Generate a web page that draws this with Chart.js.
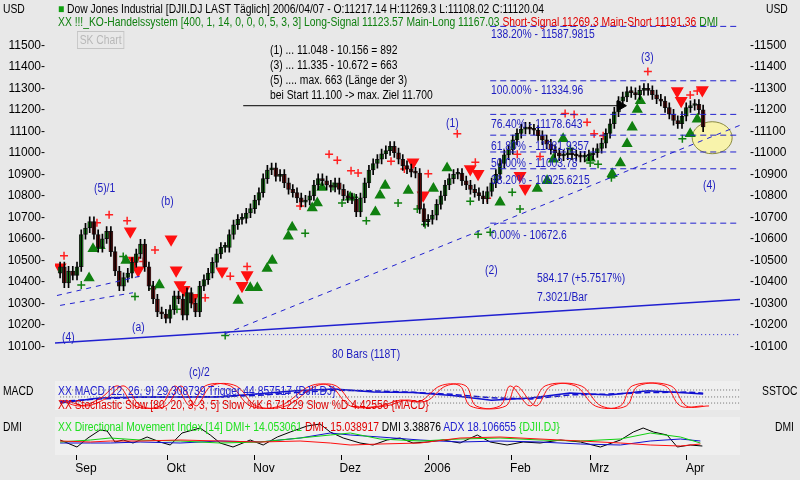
<!DOCTYPE html>
<html>
<head>
<meta charset="utf-8">
<script src="https://cdn.jsdelivr.net/npm/chart.js@4"></script>
<style>
  body { margin:0; width:800px; height:480px; background:#e8e8e8; overflow:hidden; position:relative;
         font-family:"Liberation Sans", Arial, sans-serif; font-size:12px; }
  canvas { position:absolute; left:0; }
  .t { position:absolute; white-space:nowrap; line-height:12px; transform:scaleX(0.86); transform-origin:left top; }
  .b { color:#1c1cc0; }
  .k { color:#000; }
  .g { color:#108010; }
  .r { color:#e00000; }
</style>
</head>
<body>
<canvas id="mainChart" width="800" height="372" style="top:0"></canvas>
<canvas id="macdChart" width="800" height="29" style="top:381px"></canvas>
<canvas id="dmiChart" width="800" height="63" style="top:417px"></canvas>

<div class="t k" style="left:3px;top:3px">USD</div>
<div class="t k" style="left:766px;top:3px">USD</div>
<div class="t k" style="left:58px;top:3px"><span style="color:#10a010">&#9632;</span> Dow Jones Industrial [DJII.DJ LAST Täglich] 2006/04/07 - O:11217.14 H:11269.3 L:11108.02 C:11120.04</div>
<div class="t" style="left:58px;top:16px"><span class="g">XX !!!_KO-Handelssystem [400, 1, 14, 0, 0, 0, 5, 3, 3] Long-Signal 11123.57 Main-Long 11167.03 </span><span class="r">Short-Signal 11269.3 Main-Short 11191.36 </span><span class="g">DMI</span></div>
<div class="t" style="left:77px;top:31px;width:53px;height:16px;border:1px solid #c4c4c4;color:#b8b8b8;line-height:16px;text-align:center">SK Chart</div>

<div class="t k" style="left:270px;top:44px">(1) ... 11.048 - 10.156 = 892</div>
<div class="t k" style="left:270px;top:59px">(3) ... 11.335 - 10.672 = 663</div>
<div class="t k" style="left:270px;top:74px">(5) .... max. 663 (Länge der 3)</div>
<div class="t k" style="left:270px;top:89px">bei Start 11.100 -&gt; max. Ziel 11.700</div>

<div class="t b" style="left:491px;top:28px">138.20% - 11587.9815</div>
<div class="t b" style="left:491px;top:84px">100.00% - 11334.96</div>
<div class="t b" style="left:491px;top:118px">76.40% - 11178.643</div>
<div class="t b" style="left:491px;top:140px">61.80% - 11081.9357</div>
<div class="t b" style="left:491px;top:157px">50.00% - 11003.78</div>
<div class="t b" style="left:491px;top:174px">38.20% - 10925.6215</div>
<div class="t b" style="left:491px;top:229px">0.00% - 10672.6</div>

<div class="t b" style="left:94px;top:182px">(5)/1</div>
<div class="t b" style="left:161px;top:195px">(b)</div>
<div class="t b" style="left:62px;top:331px">(4)</div>
<div class="t b" style="left:132px;top:321px">(a)</div>
<div class="t b" style="left:189px;top:366px">(c)/2</div>
<div class="t b" style="left:446px;top:117px">(1)</div>
<div class="t b" style="left:485px;top:264px">(2)</div>
<div class="t b" style="left:641px;top:51px">(3)</div>
<div class="t b" style="left:703px;top:179px">(4)</div>
<div class="t b" style="left:332px;top:348px">80 Bars (118T)</div>
<div class="t b" style="left:537px;top:272px">584.17 (+5.7517%)</div>
<div class="t b" style="left:537px;top:291px">7.3021/Bar</div>

<div class="t k" style="left:3px;top:385px">MACD</div>
<div class="t k" style="left:762px;top:385px">SSTOC</div>
<div class="t" style="left:58px;top:385px;color:#2020d0">XX MACD [12, 26, 9] 29.308739 Trigger 44.857517 {DJII.DJ}</div>
<div class="t r" style="left:58px;top:399px">XX Stochastic Slow [80, 20, 3, 3, 5] Slow %K 6.71229 Slow %D 4.42556 {MACD}</div>
<div class="t k" style="left:3px;top:421px">DMI</div>
<div class="t k" style="left:775px;top:421px">DMI</div>
<div class="t" style="left:58px;top:421px"><span style="color:#20e020">XX Directional Movement Index [14] DMI+ 14.053061 </span><span class="r">DMI- 15.038917 </span><span class="k">DMI 3.38876 </span><span style="color:#2020d0">ADX 18.106655 </span><span style="color:#20e020">{DJII.DJ}</span></div>

<script>
// daily closes, end of August 2005 .. 2006/04/07
const closes = [10470,10395,10450,10430,10470,10620,10650,10680,10620,10560,10600,10635,10540,10450,10380,10420,10440,10490,10530,10575,
  10470,10380,10320,10260,10250,10230,10270,10335,10320,10245,10350,10300,10260,10380,10410,10440,10490,10530,10560,10560,
  10620,10665,10690,10695,10720,10740,10780,10815,10880,10920,10930,10890,10900,10860,10830,10815,10790,10770,10780,10800,
  10850,10880,10870,10850,10840,10860,10830,10800,10790,10785,10725,10790,10860,10920,10950,10970,10995,11010,11030,11000,
  10970,10940,10925,10910,10905,10740,10680,10690,10710,10760,10800,10850,10880,10900,10905,10870,10850,10830,10815,10800,
  10785,10820,10860,10900,10950,10990,11015,11060,11090,11110,11120,11110,11105,11080,11060,11040,11015,11000,10985,10990,
  11000,10990,10985,10980,10985,10990,11000,11020,11045,11090,11135,11190,11240,11260,11285,11280,11270,11290,11300,11290,
  11270,11250,11240,11210,11180,11150,11135,11170,11210,11220,11225,11200,11120];
const firstOpen = 10440;
const wick = 22;
const lastBarPos = 164;   // x position of the last candle on the time axis

const yTicks = [10100,10200,10300,10400,10500,10600,10700,10800,10900,11000,11100,11200,11300,11400,11500];
const monthTicks = [4.3, 27.3, 49.7, 71.7, 93.9, 115.1, 135.2, 159.7];
const monthLabels = ["Sep","Okt","Nov","Dez","2006","Feb","Mrz","Apr"];

const fibLevels = [11587.9815, 11334.96, 11178.643, 11081.9357, 11003.78, 10925.6215, 10672.6];
const fibStart = 109.7;
const xMin = -1.3, xMax = 173.4;

// signal markers: [time, price]
const redDown = [[0,10467],[17.9,10635],[18.9,10499],[19.9,10453],[28.3,10598],[29.6,10453],[30.6,10385],[31.6,10363],[33.9,10326],
  [41.3,10449],[46.4,10381],[47.7,10431],[90,10956],[92.6,10802],[104.6,10925],[106.6,10902],[117.3,10893],[118.6,10834],
  [157.4,11287],[158.4,11242],[163.8,11292]];
const greenUp = [[7.4,10417],[8.4,10553],[10.2,10567],[16.8,10499],[25.3,10385],[45.4,10313],[48.5,10372],[50.3,10372],[52.8,10462],
  [54.1,10499],[58.2,10612],[59.2,10653],[64.3,10743],[65.6,10766],[66.8,10838],[74,10793],[80.4,10725],[81.6,10802],[82.9,10848],
  [88.8,10825],[95.2,10834],[98.7,10929],[112.2,10770],[121.7,10834],[124.2,10870],[125.8,10970],[128.3,11065],[135.2,10974],
  [140.8,10902],[142.9,10952],[144.6,11042],[145.9,11119],[147.2,11201],[148,11242],[160.7,11088],[162.5,11156]];
const redPlus = [[1,10521],[9.4,10675],[12.5,10712],[17.1,10684],[21.2,10494],[24.2,10548],[37,10326],[43.4,10426],[47.7,10471],
  [61.2,10752],[68.6,10993],[70.7,10965],[74.2,10916],[76,10906],[84.4,10961],[87.8,10925],[93.9,10902],[101.3,11088],[105.9,10956],
  [108.9,10789],[116.6,10993],[122.4,10983],[128.8,11183],[131.1,11178],[134.4,11142],[136.2,11088],[138.5,11079],[149.9,11378],
  [160.7,11269],[162.5,11287]];
const greenPlus = [[5.4,10385],[16.1,10517],[19.1,10331],[23.5,10367],[29.8,10272],[42.1,10150],[62.5,10626],[69.6,10843],[71.9,10766],
  [75,10793],[78.1,10684],[86.2,10766],[91.1,10739],[93.1,10666],[104.6,10775],[106.6,10621],[109.7,10630],[115.3,10816],[117.3,10739],
  [130.1,11020],[135.2,10952],[137.2,10947],[140.6,10884],[158.7,11065]];

// trend lines [time, price]
const trendSolid = [[xMin,10115],[xMax,10318]];
const trendDashed = [[42.1,10158],[xMax,11128]];
const lowDotted = [[42.1,10154],[xMax,10154]];
const leftDash1 = [[-0.8,10336],[20.4,10426]];
const leftDash2 = [[0,10290],[18.6,10349]];
const arrowLine = [[46.7,11219],[142.9,11219]];
const circleAt = [166.3, 11070];

// MACD / Stochastic panel (0..100)
const macdX = [0,10,20,30,40,50,60,70,80,90,100,110,120,130,140,150,160,164];
const macdLine = [24,41,45,45,45,55,66,72,62,60,50,34,41,59,52,66,59,55];
const macdTrigger = [30,38,44,45,46,50,60,68,66,61,54,42,38,52,55,60,62,58];
const stochX = [0,5.1,10.2,14.8,19.1,25.5,29.3,33.2,37,43.4,48.5,56.1,63.8,68.9,74,81.6,86.7,91.8,96.9,102,104.6,112.2,114.8,
  119.9,123.7,131.4,136.5,142.9,145.9,154.3,158.2,164];
const stochK = [34,14,40,83,14,14,83,14,83,83,14,14,83,83,14,14,34,30,83,83,14,14,83,14,83,83,14,14,83,83,14,14];
const stochDots = [69,45,24];

// DMI panel
const blackX = [0,4.3,7.1,10.2,12,14,16.1,18.6,22.2,25.5,28.1,31.1,35.7,38.3,40.8,44.1,48.5,51.8,55.4,58.7,63,66.3,68.9,72.2,
  76.5,79.8,83.4,86.7,90,93.6,97.7,102,106.4,109.7,114,118.1,122.4,127.6,132.7,137.8,142.9,146.2,148.7,151.3,154.8,157.4,160.7,163.8];
const dmiLine = [15,8,17,25,24,13,15,12,18,13,10,22,27,20,12,8,15,10,18,23,29,31,23,17,12,10,15,17,12,13,15,12,20,13,10,13,12,
  15,13,8,15,23,27,23,20,8,10,9];
const dmiX = [0,7.7,12.8,20.4,30.6,40.8,51,61.2,68.9,74,81.6,91.8,102,112.2,122.4,132.7,142.9,150.5,158.2,163.3];
const dmiPlus = [13,15,17,15,14,12,13,17,20,22,16,14,16,17,15,14,16,22,18,12];
const dmiMinus = [14,13,14,14,15,14,13,14,12,10,11,12,17,18,16,14,12,10,9,11];
const adx = [12,12,12,13,12,14,13,17,22,20,18,15,13,14,13,11,10,14,16,14];

const pts = arr => arr.map(p => ({ x: p[0], y: p[1] }));
const xy = (xs, ys) => xs.map((x, i) => ({ x, y: ys[i] }));

const barStep = lastBarPos / (closes.length - 1);
const opens = closes.map((c, i) => i === 0 ? firstOpen : closes[i - 1]);
const bodies = closes.map((c, i) => ({ x: i * barStep, y: [opens[i], c] }));
const wicks = closes.map((c, i) => ({ x: i * barStep, y: [Math.min(opens[i], c) - wick, Math.max(opens[i], c) + wick] }));
const bodyColors = closes.map((c, i) => c >= opens[i] ? "#18b018" : "#a01010");

const panelBg = color => ({
  id: "panelBg",
  beforeDraw(chart) {
    const a = chart.chartArea, ctx = chart.ctx;
    ctx.save(); ctx.fillStyle = color;
    ctx.fillRect(a.left, a.top, a.right - a.left, a.bottom - a.top);
    ctx.restore();
  }
});

const ellipsePlugin = {
  id: "ellipse",
  beforeDatasetsDraw(chart) {
    const ctx = chart.ctx;
    const cx = chart.scales.x.getPixelForValue(circleAt[0]);
    const cy = chart.scales.y.getPixelForValue(circleAt[1]);
    ctx.save();
    ctx.beginPath(); ctx.ellipse(cx, cy, 20, 16, 0, 0, Math.PI * 2);
    ctx.fillStyle = "rgba(250,245,160,0.85)"; ctx.fill();
    ctx.strokeStyle = "#8a8a40"; ctx.lineWidth = 1; ctx.stroke();
    ctx.restore();
  }
};

const xHidden = { type: "linear", min: xMin, max: xMax, offset: false, display: false };
const line = (data, color, extra) => Object.assign({ type: "line", data, borderColor: color, borderWidth: 1,
  pointRadius: 0, fill: false, tension: 0 }, extra || {});
const fibSets = fibLevels.map(v => line([{ x: fibStart, y: v }, { x: xMax, y: v }], "#2020d0", { borderDash: [6, 4] }));
const marker = (data, color, style, rot, r) => ({ type: "scatter", data: pts(data), pointStyle: style, rotation: rot,
  pointRadius: r, backgroundColor: color, borderColor: color, borderWidth: 1.5 });

const tickFont = { size: 12, family: "Liberation Sans" };
const yFit = w => function (s) { s.width = w; };
new Chart(document.getElementById("mainChart"), {
  type: "bar",
  data: {
    datasets: [
      ...fibSets,
      line(pts(trendSolid), "#2020d0", { borderWidth: 1.5 }),
      line(pts(trendDashed), "#2020d0", { borderDash: [5, 5] }),
      line(pts(lowDotted), "#2020d0", { borderDash: [1, 3] }),
      line(pts(leftDash1), "#2020d0", { borderDash: [5, 5] }),
      line(pts(leftDash2), "#2020d0", { borderDash: [5, 5] }),
      line(pts(arrowLine), "#000", { pointRadius: [0, 6], pointStyle: "triangle", rotation: 90, pointBackgroundColor: "#000" }),
      { type: "bar", data: wicks, backgroundColor: "#000", barThickness: 1, grouped: false },
      { type: "bar", data: bodies, backgroundColor: bodyColors, borderColor: "#202020", borderWidth: 1,
        barThickness: 4, grouped: false, borderSkipped: false, minBarLength: 2 },
      marker(redPlus, "#ff2020", "cross", 0, 4),
      marker(greenPlus, "#108010", "cross", 0, 4),
      marker(redDown, "#ff1010", "triangle", 180, 6),
      marker(greenUp, "#108010", "triangle", 0, 5)
    ]
  },
  options: {
    responsive: false, animation: false, events: [],
    layout: { padding: { top: 18 } },
    plugins: { legend: { display: false }, tooltip: { enabled: false } },
    scales: {
      x: xHidden,
      y: { position: "left", min: 10023, max: 11627, grid: { display: false }, border: { display: false },
        afterFit: yFit(55), afterBuildTicks: s => { s.ticks = yTicks.map(v => ({ value: v })); },
        ticks: { color: "#000", font: tickFont, padding: 2, callback: v => v + "-" } },
      y2: { position: "right", min: 10023, max: 11627, grid: { display: false }, border: { display: false },
        afterFit: yFit(60), afterBuildTicks: s => { s.ticks = yTicks.map(v => ({ value: v })); },
        ticks: { color: "#000", font: tickFont, padding: 2, callback: v => "-" + v } }
    }
  },
  plugins: [ellipsePlugin]
});

new Chart(document.getElementById("macdChart"), {
  type: "line",
  data: {
    datasets: [
      ...stochDots.map(v => line([{ x: 0, y: v }, { x: xMax, y: v }], "#707070", { borderDash: [1, 2] })),
      line(xy(stochX, stochK), "#ff1010", { tension: 0.35 }),
      line(xy(stochX.map(x => x + 1.5), stochK), "#ff1010", { tension: 0.35 }),
      line(xy(macdX, macdTrigger), "#1010d0", { borderDash: [6, 3], borderWidth: 1.5 }),
      line(xy(macdX, macdLine), "#1010d0", { borderWidth: 1.5 })
    ]
  },
  options: {
    responsive: false, animation: false, events: [],
    layout: { padding: { left: 55, right: 60 } },
    plugins: { legend: { display: false }, tooltip: { enabled: false } },
    scales: { x: xHidden, y: { min: 0, max: 100, display: false } }
  },
  plugins: [panelBg("#efefef")]
});

new Chart(document.getElementById("dmiChart"), {
  type: "line",
  data: {
    datasets: [
      line(xy(dmiX, dmiMinus), "#ff1010"),
      line(xy(dmiX, dmiPlus), "#10d010"),
      line(xy(dmiX, adx), "#1010d0"),
      line(xy(blackX, dmiLine), "#000")
    ]
  },
  options: {
    responsive: false, animation: false, events: [],
    layout: { padding: { left: 55, right: 60 } },
    plugins: { legend: { display: false }, tooltip: { enabled: false } },
    scales: {
      x: { type: "linear", min: xMin, max: xMax, offset: false, border: { display: false },
        grid: { drawOnChartArea: false, color: "#000", tickLength: 5 },
        afterBuildTicks: s => { s.ticks = monthTicks.map(v => ({ value: v })); },
        afterFit: s => { s.height = 25; },
        ticks: { color: "#000", font: tickFont, maxRotation: 0, autoSkip: false,
          labelOffset: 9, padding: 1, callback: (v, i) => monthLabels[i] } },
      y: { min: 0, max: 38, display: false }
    }
  },
  plugins: [panelBg("#efefef")]
});
</script>
</body>
</html>
